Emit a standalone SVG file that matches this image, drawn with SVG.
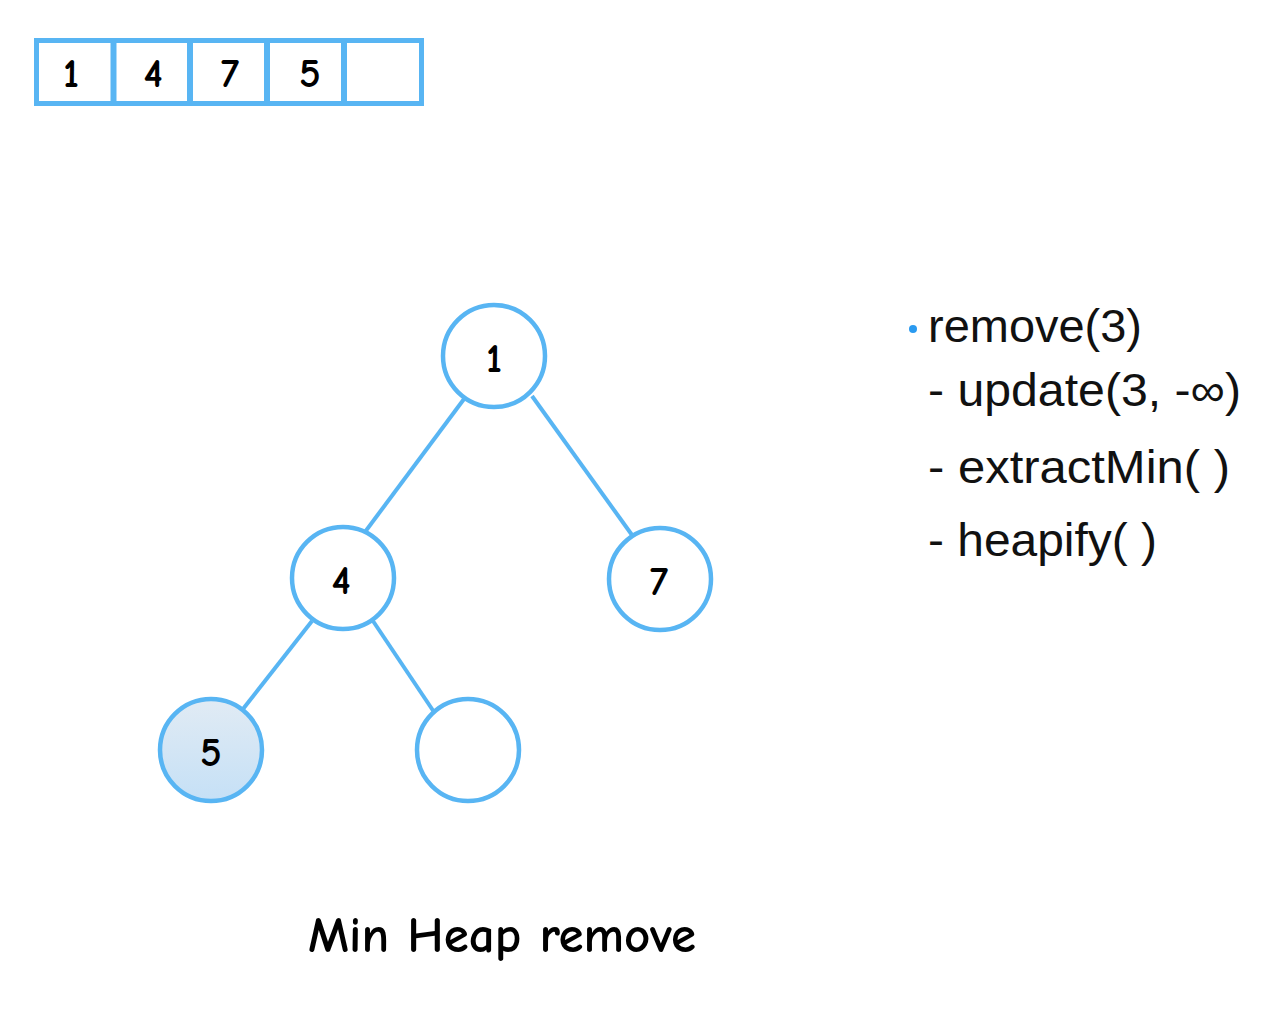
<svg xmlns="http://www.w3.org/2000/svg" width="1280" height="1010" viewBox="0 0 1280 1010">
<style>
.cell{fill:#fff;stroke:#58b5f3;stroke-width:5}
.sep{stroke:#58b5f3;stroke-width:6}
.node{fill:#fff;stroke:#58b5f3;stroke-width:4.5}
.edge{stroke:#58b5f3;stroke-width:4;fill:none}
.hand{font-family:"Comic Sans MS","Comic Neue","DejaVu Sans",sans-serif;font-weight:bold;fill:#000;text-anchor:middle}
.num{font-size:41px}
.txt{font-family:"Liberation Sans",Arial,Helvetica,sans-serif;font-size:46px;fill:#111}
</style>
<defs>
<linearGradient id="g5" x1="0" y1="0" x2="0" y2="1">
<stop offset="0" stop-color="#e1ebf4"/>
<stop offset="1" stop-color="#c5e0f6"/>
</linearGradient>
</defs>
<rect width="1280" height="1010" fill="#fff"/>
<g id="array">
<rect class="cell" x="36.5" y="40.5" width="385" height="63"/>
<line class="sep" x1="113.5" y1="40" x2="113.5" y2="104"/>
<line class="sep" x1="190" y1="40" x2="190" y2="104"/>
<line class="sep" x1="267" y1="40" x2="267" y2="104"/>
<line class="sep" x1="344" y1="40" x2="344" y2="104"/>
<text class="hand num" x="71" y="87">1</text>
<text class="hand num" x="153" y="87">4</text>
<text class="hand num" x="230" y="87">7</text>
<text class="hand num" x="310" y="87">5</text>
</g>
<g id="connectors">
<line class="edge" x1="464" y1="399" x2="365" y2="532"/>
<line class="edge" x1="532" y1="396" x2="632" y2="535"/>
<line class="edge" x1="312" y1="621" x2="243" y2="709"/>
<line class="edge" x1="373" y1="621" x2="434" y2="712"/>
</g>
<g id="node-1"><circle class="node" cx="494" cy="356" r="51"/><text class="hand num" x="494" y="372">1</text></g>
<g id="node-4"><circle class="node" cx="343" cy="578" r="51"/><text class="hand num" x="341" y="594">4</text></g>
<g id="node-7"><circle class="node" cx="660" cy="579" r="51"/><text class="hand num" x="659" y="595">7</text></g>
<g id="node-5"><circle class="node" cx="211" cy="750" r="51" style="fill:url(#g5)"/><text class="hand num" x="211" y="766">5</text></g>
<g id="node-empty"><circle class="node" cx="468" cy="750" r="51"/></g>
<g id="notes">
<circle cx="913" cy="329" r="4" fill="#2a9af0"/>
<text class="txt" x="928" y="342" textLength="214" lengthAdjust="spacingAndGlyphs">remove(3)</text>
<text class="txt" x="928" y="406" textLength="313" lengthAdjust="spacingAndGlyphs">- update(3, -∞)</text>
<text class="txt" x="928" y="483" textLength="302" lengthAdjust="spacingAndGlyphs">- extractMin( )</text>
<text class="txt" x="928" y="556" textLength="229" lengthAdjust="spacingAndGlyphs">- heapify( )</text>
</g>
<g id="title"><text class="hand" x="502" y="952" font-size="51" textLength="388" lengthAdjust="spacingAndGlyphs">Min Heap remove</text></g>
</svg>
